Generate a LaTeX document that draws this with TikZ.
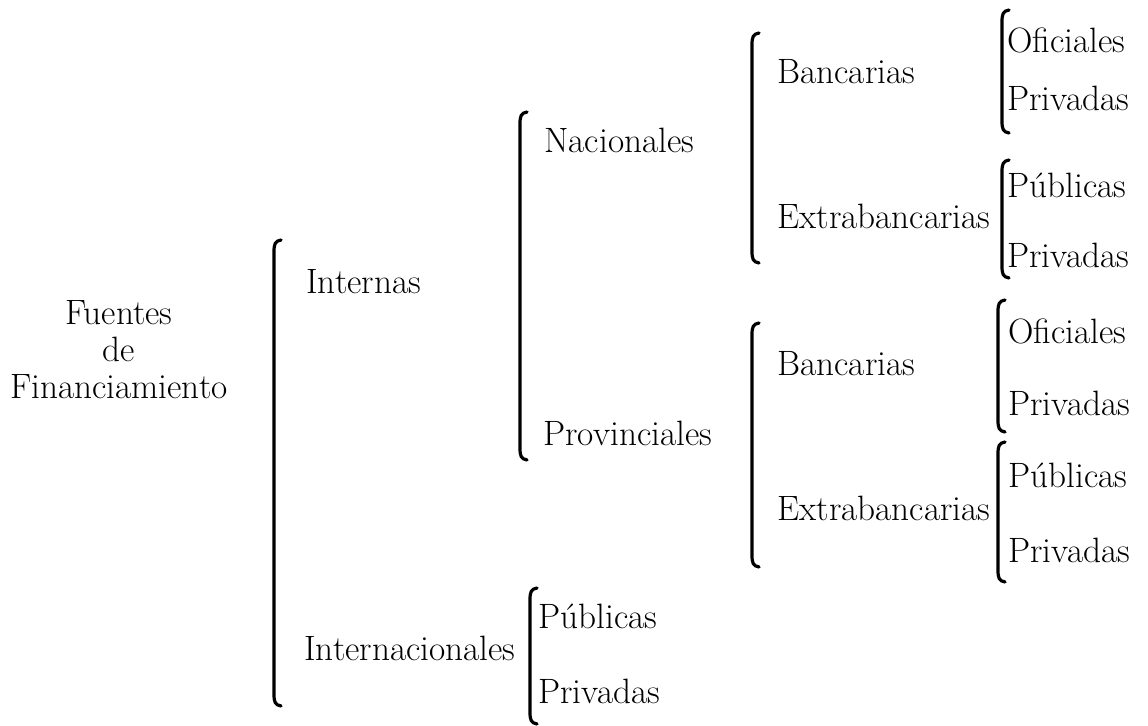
\documentclass[tikz,border=0pt]{standalone}
\usepackage{tikz}

\tikzset{
	rama/.style={anchor=base west, inner sep=0pt, font=\fontsize{17.6}{18.5}\selectfont},
	llave/.style={black, line width=1.6pt, line cap=round}
}
% corchete: x, arriba, abajo (en pixeles)
\newcommand{\corchete}[3]{%
	\draw[llave] (#1+7,#2) .. controls (#1+1,#2+1) and (#1,#2+4) .. (#1,#2+12)
		-- (#1,#3-12) .. controls (#1,#3-4) and (#1+1,#3-1) .. (#1+7,#3);}

\begin{document}
\begin{tikzpicture}[x=0.5pt, y=-0.5pt]
	\useasboundingbox (0,0) rectangle (1148,726);
	\node[font=\fontsize{17.6}{18.5}\selectfont, align=center, inner sep=0pt] (fuentes) at (119,350) {Fuentes\\de\\Financiamiento};

	\corchete{274}{240}{706}
	\node[rama] (internas) at (306,294) {Internas};
	\node[rama] (internac) at (304,661) {Internacionales};

	\corchete{520}{112}{460}
	\node[rama] (nacionales) at (544,153) {Nacionales};
	\node[rama] (provinciales) at (543,446) {Provinciales};

	\corchete{530}{588}{724}
	\node[rama] (intpublicas) at (538,629) {Públicas};
	\node[rama] (intprivadas) at (538,704) {Privadas};

	\corchete{752}{33}{263}
	\node[rama] (nacbanc) at (777,84) {Bancarias};
	\node[rama] (nacextra) at (777,229) {Extrabancarias};

	\corchete{1002}{10}{133}
	\node[rama] (nacbancofi) at (1007,53) {Oficiales};
	\node[rama] (nacbancpriv) at (1007,111) {Privadas};

	\corchete{1002}{160}{278}
	\node[rama] (nacextrapub) at (1007,198) {Públicas};
	\node[rama] (nacextrapriv) at (1007,268) {Privadas};

	\corchete{752}{323}{567}
	\node[rama] (provbanc) at (777,376) {Bancarias};
	\node[rama] (provextra) at (777,521) {Extrabancarias};

	\corchete{998}{300}{432}
	\node[rama] (provbancofi) at (1008,344) {Oficiales};
	\node[rama] (provbancpriv) at (1008,416) {Privadas};

	\corchete{998}{442}{582}
	\node[rama] (provextrapub) at (1008,488) {Públicas};
	\node[rama] (provextrapriv) at (1008,563) {Privadas};
\end{tikzpicture}
\end{document}
